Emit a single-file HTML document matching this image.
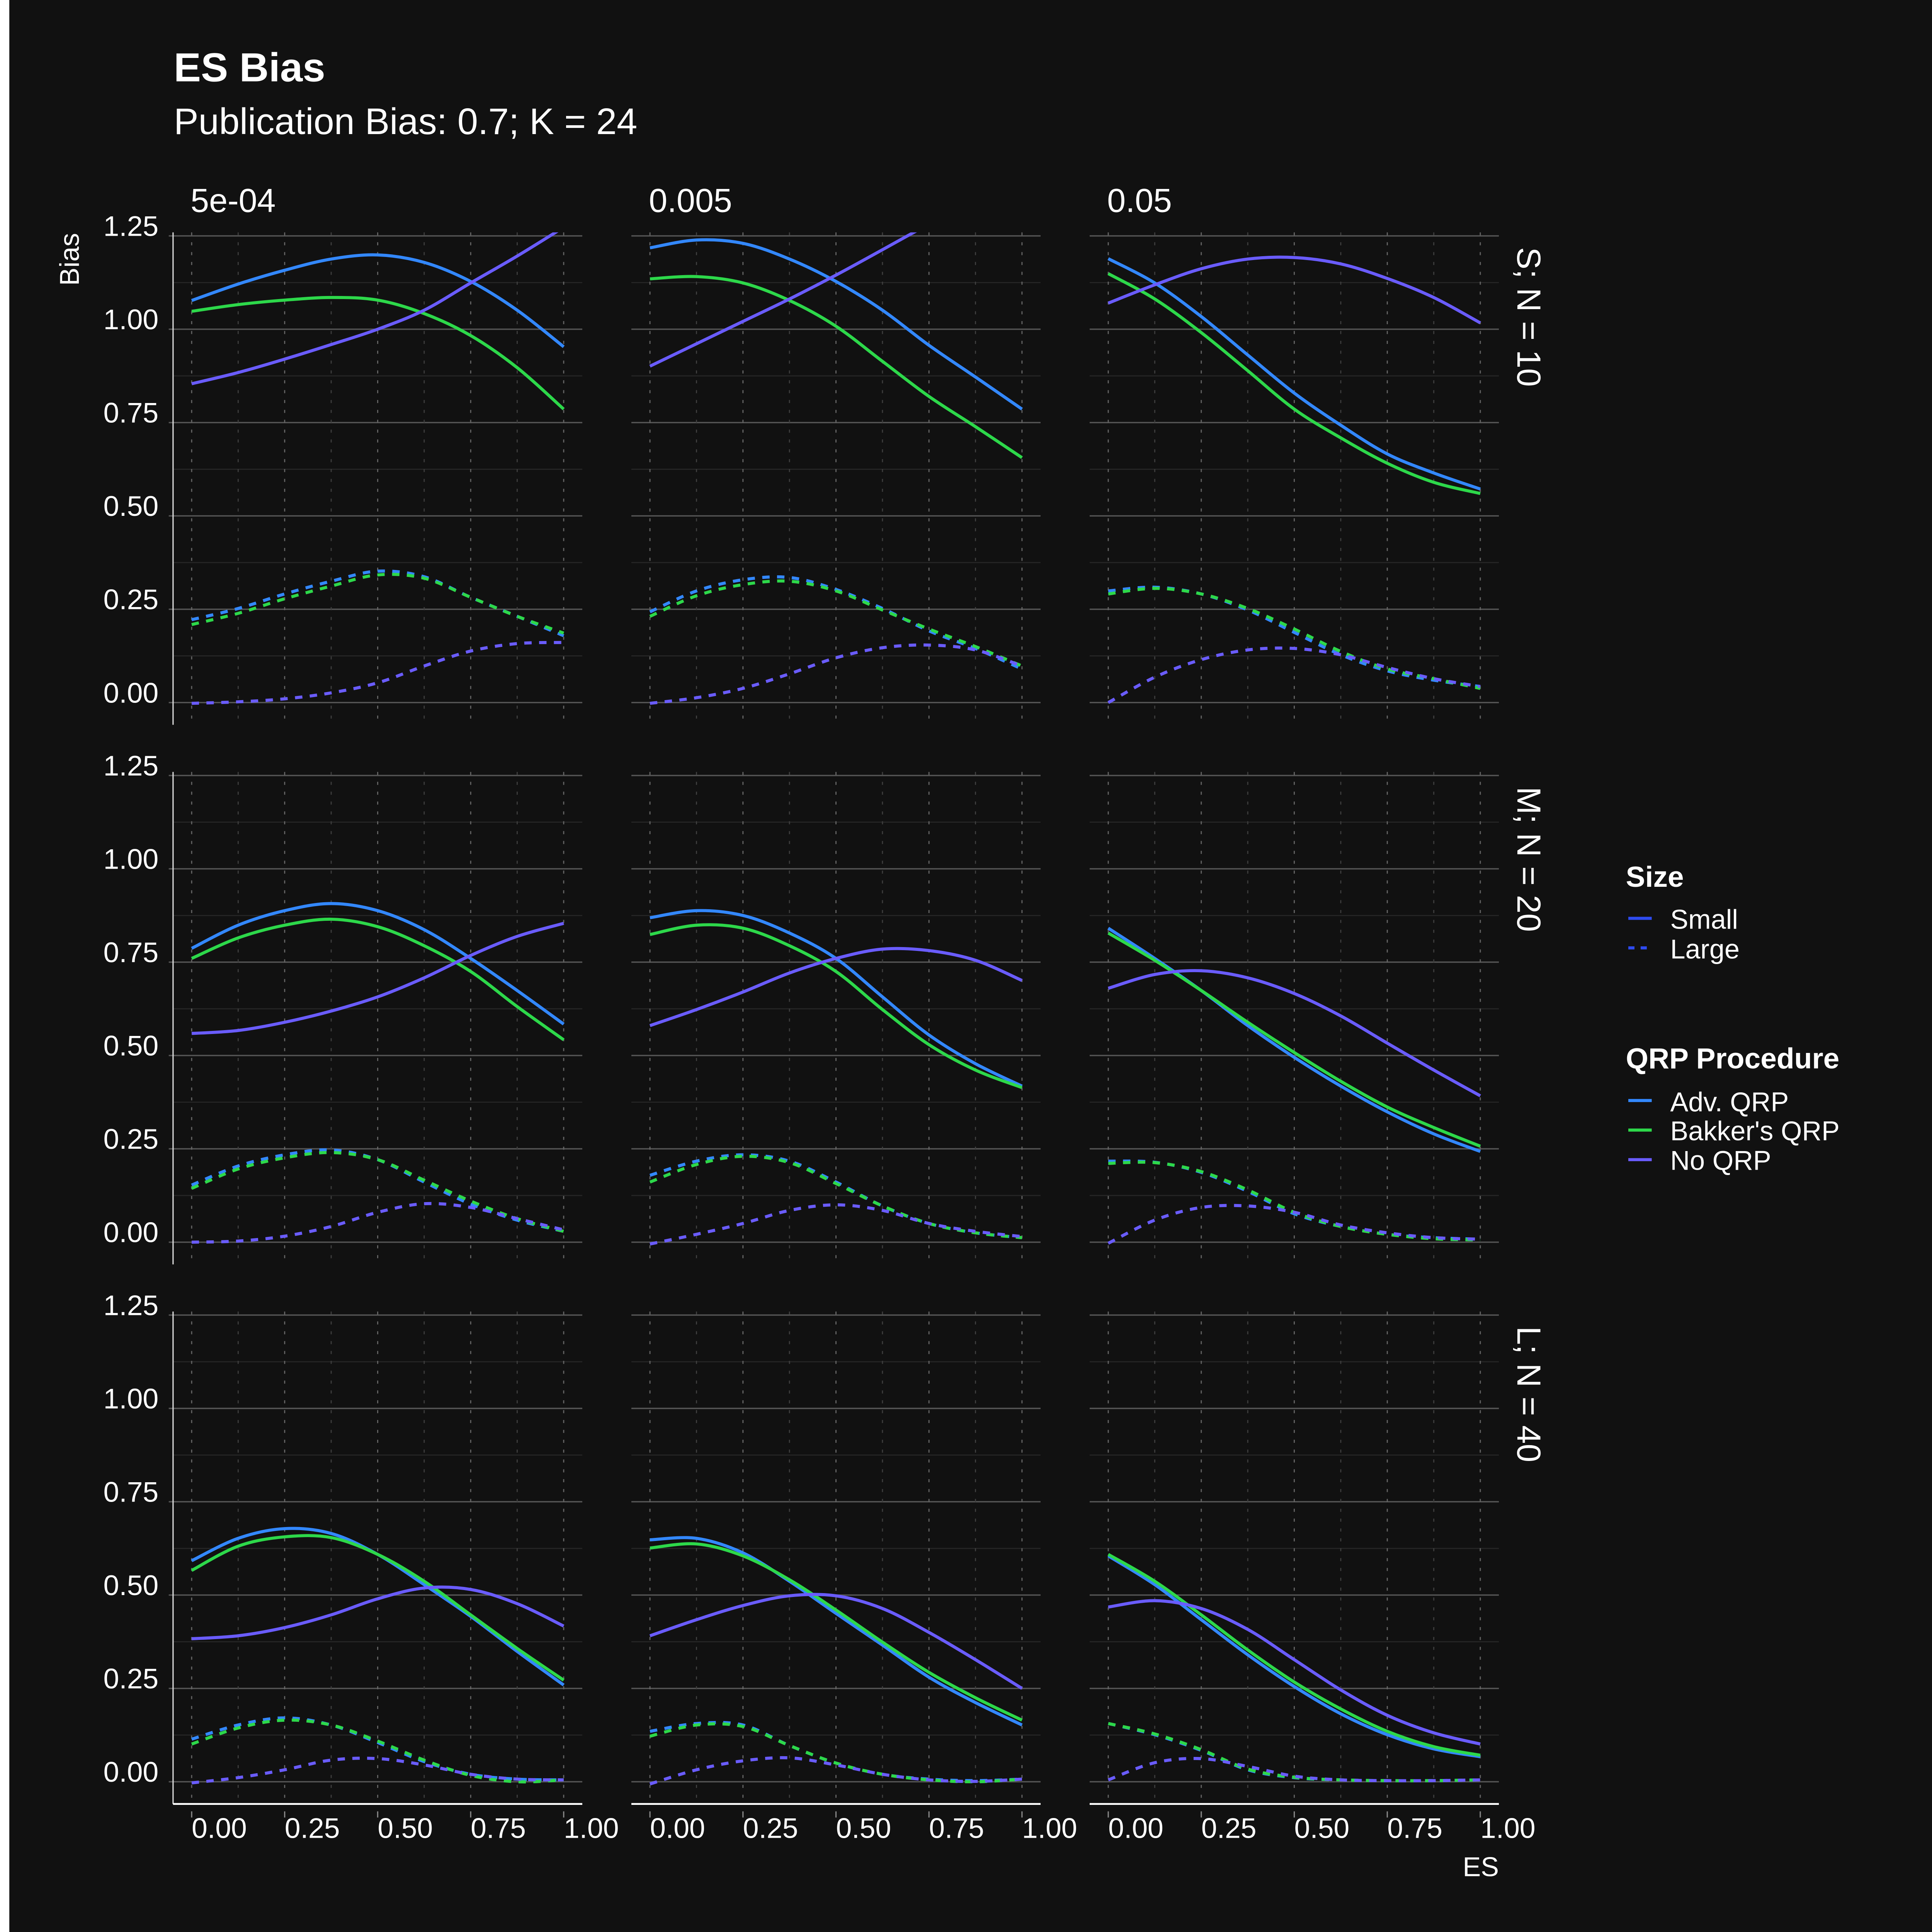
<!DOCTYPE html>
<html><head><meta charset="utf-8">
<style>
html,body{margin:0;padding:0;background:#111111;width:5039px;height:5039px;overflow:hidden;}
svg{display:block;position:absolute;left:0;top:0;}
text{font-family:"Liberation Sans",sans-serif;fill:#fff;}
</style></head>
<body>
<svg id="chart" width="5039" height="5039" viewBox="0 0 1579.6 1579.6" xmlns="http://www.w3.org/2000/svg">
<rect x="0" y="0" width="7.6" height="1580" fill="#ffffff"/>
<rect x="7.6" y="0" width="1575" height="1580" fill="#111111"/>
<text x="141" y="66" font-size="33" font-weight="bold">ES Bias</text>
<text x="141" y="108.7" font-size="30">Publication Bias: 0.7; K = 24</text>
<text transform="translate(64,189) rotate(-90)" text-anchor="end" font-size="22">Bias</text>
<text x="1216" y="1522" text-anchor="end" font-size="22">ES</text>
<g id="panels"></g>
<g>
<text x="1319" y="719.5" font-size="23.5" font-weight="bold">Size</text>
<line x1="1321" x2="1340" y1="745" y2="745" stroke="#2E4BF0" stroke-width="2.5"/>
<text x="1355" y="753.4" font-size="22">Small</text>
<line x1="1321" x2="1340" y1="769" y2="769" stroke="#2E4BF0" stroke-width="2.5" stroke-dasharray="5,5"/>
<text x="1355" y="777.5" font-size="22">Large</text>
<text x="1319" y="866.8" font-size="23.5" font-weight="bold">QRP Procedure</text>
<line x1="1321" x2="1340" y1="892.8" y2="892.8" stroke="#3388FF" stroke-width="2.5"/>
<text x="1355" y="901.6" font-size="22">Adv. QRP</text>
<line x1="1321" x2="1340" y1="916.8" y2="916.8" stroke="#2DD84A" stroke-width="2.5"/>
<text x="1355" y="925" font-size="22">Bakker's QRP</text>
<line x1="1321" x2="1340" y1="940.8" y2="940.8" stroke="#6A5CFF" stroke-width="2.5"/>
<text x="1355" y="949" font-size="22">No QRP</text>
</g>
</svg>
<script>
const esValues = [0, 0.125, 0.25, 0.375, 0.5, 0.625, 0.75, 0.875, 1];
const colLabels = ["5e-04", "0.005", "0.05"];
const rowLabels = ["S; N = 10", "M; N = 20", "L; N = 40"];
const yTicks = [0, 0.25, 0.5, 0.75, 1.0, 1.25];
const yTickLabels = ["0.00", "0.25", "0.50", "0.75", "1.00", "1.25"];
const xTicks = [0, 0.25, 0.5, 0.75, 1.0];
const xTickLabels = ["0.00", "0.25", "0.50", "0.75", "1.00"];
const procedures = ["Adv. QRP", "Bakker's QRP", "No QRP"];
const sizes = ["Small", "Large"];
// values[row][col][procedure][size]
const r1c1 = [[[1.077,1.121,1.158,1.188,1.199,1.179,1.128,1.051,0.953],[.222,.252,.291,.325,.352,.337,.282,.231,.179]],
 [[1.048,1.066,1.078,1.085,1.078,1.042,0.983,0.897,0.786],[.209,.239,.278,.312,.342,.333,.282,.231,.186]],
 [[0.854,0.884,0.920,0.959,1.000,1.051,1.124,1.196,1.273],[-.002,.002,.010,.026,.053,.098,.138,.158,.161]]];
const r1c2 = [[[1.218,1.239,1.230,1.188,1.128,1.051,0.957,0.872,0.786],[.243,.299,.329,.335,.303,.252,.192,.145,.090]],
 [[1.135,1.141,1.124,1.077,1.008,0.914,0.820,0.739,0.656],[.231,.286,.316,.325,.299,.248,.197,.150,.098]],
 [[0.901,0.961,1.021,1.081,1.145,1.213,1.282,1.35,1.42],[-.002,.013,.038,.077,.120,.147,.154,.141,.098]]];
const r1c3 = [[[1.189,1.124,1.034,0.931,0.829,0.743,0.666,0.615,0.572],[.299,.309,.291,.248,.188,.128,.085,.060,.043]],
 [[1.149,1.081,0.991,0.889,0.786,0.709,0.641,0.590,0.560],[.291,.306,.291,.252,.197,.137,.090,.064,.038]],
 [[1.070,1.119,1.162,1.188,1.192,1.175,1.136,1.085,1.017],[0,.068,.115,.141,.145,.128,.094,.064,.043]]];
const r2c1 = [[[.787,.849,.888,.907,.888,.837,.760,.674,.584],[.153,.204,.234,.247,.221,.161,.102,.059,.029]],
 [[.760,.815,.849,.865,.845,.794,.725,.631,.542],[.144,.196,.226,.240,.221,.166,.110,.063,.029]],
 [[.559,.567,.589,.619,.657,.708,.768,.819,.854],[0,.003,.016,.042,.080,.103,.093,.063,.033]]];
const r2c2 = [[[.869,.888,.875,.828,.760,.657,.555,.478,.418],[.179,.217,.234,.217,.161,.097,.050,.025,.012]],
 [[.824,.849,.841,.794,.725,.623,.529,.461,.414],[.161,.208,.230,.213,.157,.097,.050,.025,.012]],
 [[.580,.623,.670,.721,.760,.785,.781,.755,.701],[-.005,.021,.050,.085,.100,.085,.050,.029,.015]]];
const r2c3 = [[[.841,.760,.674,.580,.495,.418,.349,.290,.243],[.217,.214,.187,.136,.076,.042,.021,.012,.008]],
 [[.828,.755,.674,.589,.508,.431,.362,.307,.257],[.211,.213,.189,.140,.080,.042,.021,.009,.006]],
 [[.680,.717,.727,.708,.666,.606,.533,.461,.392],[-.003,.059,.093,.097,.080,.046,.025,.012,.008]]];
const r3c1 = [[[.592,.652,.678,.665,.609,.528,.443,.349,.259],[.114,.152,.171,.152,.105,.054,.020,.007,.005]],
 [[.566,.631,.656,.654,.609,.537,.447,.357,.272],[.101,.144,.165,.152,.109,.058,.017,0,.005]],
 [[.383,.391,.413,.447,.490,.519,.515,.477,.417],[-.003,.011,.032,.058,.062,.045,.020,.007,.005]]];
const r3c2 = [[[.648,.652,.613,.537,.451,.366,.280,.212,.152],[.135,.156,.152,.097,.050,.020,.007,.003,.007]],
 [[.626,.637,.605,.541,.460,.374,.293,.225,.165],[.122,.152,.148,.097,.050,.020,.005,0,.007]],
 [[.391,.434,.472,.498,.498,.464,.400,.327,.250],[-.006,.032,.056,.064,.045,.020,.005,.001,.007]]];
const r3c3 = [[[.605,.528,.434,.340,.255,.182,.126,.088,.067],[.156,.126,.084,.032,.011,.005,.003,.003,.005]],
 [[.609,.537,.447,.353,.267,.195,.135,.094,.071],[.156,.128,.086,.034,.012,.005,.003,.003,.005]],
 [[.468,.485,.464,.408,.327,.246,.178,.131,.101],[.005,.051,.062,.041,.015,.005,.003,.003,.005]]];
const values = [[r1c1,r1c2,r1c3],[r2c1,r2c2,r2c3],[r3c1,r3c2,r3c3]];

const NS = "http://www.w3.org/2000/svg";
const colors = ["#3388FF", "#2DD84A", "#6A5CFF"];
const PW = 332, PH = 399.5, COL0 = 140.4, COLSTEP = 371.8, ROW0 = 188.5, ROWSTEP = 437.75;
const XMIN = -0.05, XMAX = 1.05, YMIN = -0.0595, YMAX = 1.2595;
function xs(c, v){ return COL0 + c*COLSTEP + (v - XMIN)/(XMAX - XMIN)*PW; }
function ys(r, v){ return ROW0 + r*ROWSTEP + (YMAX - v)/(YMAX - YMIN)*PH; }
function mk(tag, attrs, parent){
  const el = document.createElementNS(NS, tag);
  for (const k in attrs) el.setAttribute(k, attrs[k]);
  parent.appendChild(el); return el;
}
function smoothPath(pts){
  let d = "M" + pts[0][0].toFixed(2) + "," + pts[0][1].toFixed(2);
  for (let i = 0; i < pts.length - 1; i++){
    const p0 = pts[Math.max(0,i-1)], p1 = pts[i], p2 = pts[i+1], p3 = pts[Math.min(pts.length-1,i+2)];
    const c1 = [p1[0]+(p2[0]-p0[0])/6, p1[1]+(p2[1]-p0[1])/6];
    const c2 = [p2[0]-(p3[0]-p1[0])/6, p2[1]-(p3[1]-p1[1])/6];
    d += " C" + c1.map(v=>v.toFixed(2)).join(",") + " " + c2.map(v=>v.toFixed(2)).join(",") + " " + p2.map(v=>v.toFixed(2)).join(",");
  }
  return d;
}
const root = document.getElementById("panels");
const defs = mk("defs", {}, root);
for (let r = 0; r < 3; r++){
  for (let c = 0; c < 3; c++){
    const px = COL0 + c*COLSTEP, py = ROW0 + r*ROWSTEP;
    const cp = mk("clipPath", {id: "clip"+r+c}, defs);
    mk("rect", {x: px, y: py, width: PW, height: PH}, cp);
    const g = mk("g", {}, root);
    
    
    for (let k = 0; k <= 10; k++){
      const v = k*0.125, major = k % 2 === 0;
      const ln = mk("line", {x1: major && c === 0 ? px-3.5 : px, x2: px+PW, y1: ys(r,v), y2: ys(r,v), stroke: major ? "#555555" : "#262626", "stroke-width": major ? 1.1 : 0.9}, g);
      
      
    }
    for (let k = 0; k <= 8; k++){
      const v = k*0.125, major = k % 2 === 0;
      const ln = mk("line", {x1: xs(c,v), x2: xs(c,v), y1: py, y2: py+PH, stroke: major ? "#666666" : "#3e3e3e", "stroke-width": 0.9, "stroke-dasharray": "2.5,5.5"}, g);
      
      
    }
    if (c === 0){
      const ax = mk("line", {x1: px, x2: px, y1: py, y2: py+PH, stroke: "#dddddd", "stroke-width": 1}, g);
      
      
      yTicks.forEach((t, i) => {
        const tx = mk("text", {x: 128.6, y: ys(r,t), "text-anchor": "end", "font-size": 23}, g);
        tx.textContent = yTickLabels[i];
        
        
      });
    }
    if (r === 2){
      const ax = mk("line", {x1: px, x2: px+PW, y1: py+PH, y2: py+PH, stroke: "#ffffff", "stroke-width": 1.5}, g);
      
      
      xTicks.forEach((t, i) => {
        const tk = mk("line", {x1: xs(c,t), x2: xs(c,t), y1: py+PH+6, y2: py+PH+11, stroke: "#888888", "stroke-width": 1}, g);
        
        
        const tx = mk("text", {x: xs(c,t), y: 1491, "font-size": 23}, g);
        tx.textContent = xTickLabels[i];
        
        
      });
    }
    if (r === 0){
      const tx = mk("text", {x: px + 14.2, y: 172, "font-size": 27}, g);
      tx.textContent = colLabels[c];
      
      
    }
    if (c === 2){
      const tx = mk("text", {transform: "translate(1231," + (py + 12) + ") rotate(90)", "font-size": 27}, g);
      tx.textContent = rowLabels[r];
      
      
    }
    const lg = mk("g", {"clip-path": "url(#clip"+r+c+")"}, g);
    for (let s = 1; s >= 0; s--){
      for (let p = 0; p < 3; p++){
        const series = values[r][c][p][s];
        const pts = series.map((v, i) => [xs(c, esValues[i]), ys(r, v)]);
        const attrs = {d: smoothPath(pts), fill: "none", stroke: colors[p], "stroke-width": 2.5, "stroke-linejoin": "round"};
        if (s === 1) attrs["stroke-dasharray"] = "6,6";
        const path = mk("path", attrs, lg);
        
        
      }
    }
  }
}
</script>
</body></html>
